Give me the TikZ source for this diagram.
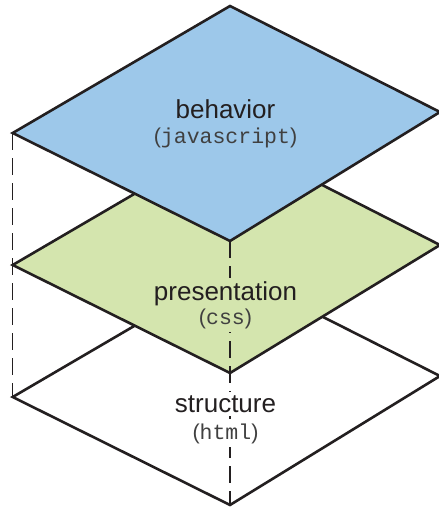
\documentclass[tikz,border=0pt]{standalone}
\usepackage{fontspec}
\setmainfont{Liberation Sans}
\newfontfamily\monof{Liberation Mono}
\definecolor{behblue}{HTML}{9DC8EA}
\definecolor{presgreen}{HTML}{D4E5AE}
\definecolor{inkc}{HTML}{231F20}
\definecolor{monoc}{HTML}{404040}
\tikzset{
  layer/.style={draw=inkc, line width=2.6pt, line join=miter},
  guide/.style={draw=inkc, line width=1.1pt, dash pattern=on 17pt off 8pt},
  title/.style={inner xsep=2pt, inner ysep=3pt, anchor=base, text=inkc, font=\fontsize{26}{30}\selectfont},
  sub/.style={inner xsep=2pt, inner ysep=4pt, anchor=base, text=monoc, font=\fontsize{21.5}{24}\selectfont},
}
\begin{document}
\begin{tikzpicture}[x=1pt,y=-1pt]
\useasboundingbox (0,0) rectangle (439,507);
\clip (0,0) rectangle (439,507);
% bottom layer
\coordinate (sL) at (12.7,397);
\coordinate (sT) at (230,270);
\coordinate (sR) at (440,376);
\coordinate (sB) at (230,505);
% middle layer
\coordinate (pL) at (12.7,265);
\coordinate (pT) at (230,138);
\coordinate (pR) at (440,245);
\coordinate (pB) at (230,373);
% top layer
\coordinate (bL) at (12.7,133);
\coordinate (bT) at (230,6);
\coordinate (bR) at (440,112);
\coordinate (bB) at (230,241);

\path[layer, fill=white] (sL) -- (sT) -- (sR) -- (sB) -- cycle;
\path[layer, fill=presgreen] (pL) -- (pT) -- (pR) -- (pB) -- cycle;
\path[layer, fill=behblue] (bL) -- (bT) -- (bR) -- (bB) -- cycle;

\draw[guide] (bL) -- (sL);
\draw[guide] (bB) -- (sB);

\node[title, fill=behblue] (beh) at (225.5,118) {behavior};
\node[sub, fill=behblue] (js) at (225.5,143) {(\monof javascript\rmfamily)};
\node[title, fill=presgreen] (pres) at (225.5,300) {presentation};
\node[sub, fill=presgreen] (css) at (225.5,324) {(\monof css\rmfamily)};
\node[title, fill=white] (str) at (225.5,412) {structure};
\node[sub, fill=white] (html) at (225.5,439) {(\monof html\rmfamily)};
\end{tikzpicture}
\end{document}
